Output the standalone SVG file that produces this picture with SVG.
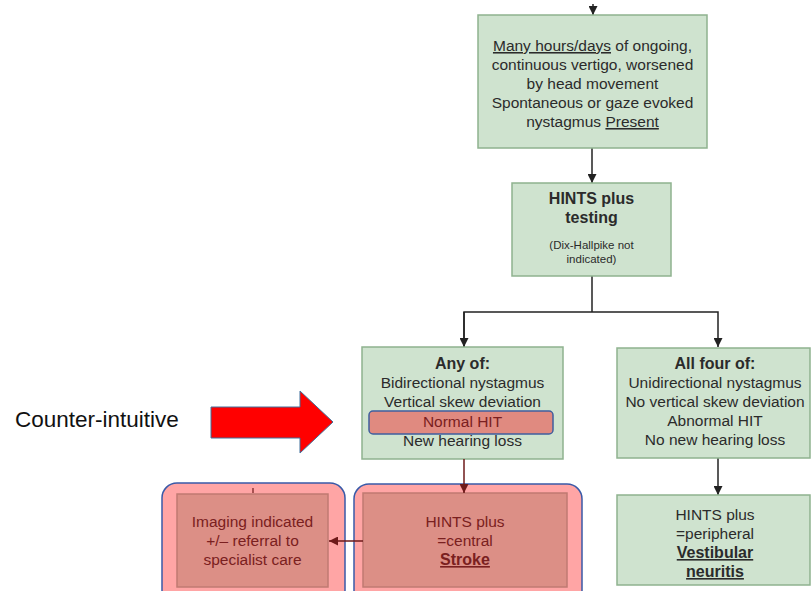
<svg xmlns="http://www.w3.org/2000/svg" width="811" height="591" viewBox="0 0 811 591">
  <defs>
    <marker id="arr" viewBox="0 0 10 10" refX="10" refY="5" markerWidth="9" markerHeight="9" markerUnits="userSpaceOnUse" orient="auto">
      <path d="M0,0 L10,5 L0,10 z" fill="#222"/>
    </marker>
    <marker id="arr-red" viewBox="0 0 10 10" refX="10" refY="5" markerWidth="9" markerHeight="9" markerUnits="userSpaceOnUse" orient="auto">
      <path d="M0,0 L10,5 L0,10 z" fill="#6e1a1a"/>
    </marker>
  </defs>
  <style>
    .box { fill: #cfe3cf; stroke: #8fb28f; stroke-width: 1.5; }
    .hl { fill: #ffa5a5; stroke: #3a5aa8; stroke-width: 1.5; }
    .inner { fill: #dc8f86; stroke: #c07a72; stroke-width: 1.5; }
    .t { font-family: "Liberation Sans", Arial, sans-serif; font-size: 15.5px; fill: #2b2b2b; text-anchor: middle; }
    .b { font-weight: bold; font-size: 16px; }
    .s { font-size: 11.5px; }
    .r { fill: #7a2020; }
    .line { stroke: #222; stroke-width: 1.5; fill: none; }
    .line-red { stroke: #6e1a1a; stroke-width: 1.5; fill: none; }
  </style>
  <rect width="811" height="591" fill="#ffffff"/>

  <!-- connectors -->
  <g id="connectors">
    <line class="line" x1="593" y1="4" x2="593" y2="15" marker-end="url(#arr)"/>
    <line class="line" x1="592" y1="148" x2="592" y2="183" marker-end="url(#arr)"/>
    <polyline class="line" points="592,276 592,312"/>
    <polyline class="line" points="464,347 464,312 718,312 718,347" marker-end="url(#arr)"/>
    <line class="line" x1="464" y1="312" x2="464" y2="347" marker-end="url(#arr)"/>
    <line class="line" x1="718" y1="458" x2="718" y2="495" marker-end="url(#arr)"/>
  </g>

  <!-- top: ongoing vertigo -->
  <g id="n-vertigo">
    <rect class="box" x="478" y="15" width="229" height="133"/>
    <text class="t" x="592.5" y="51"><tspan text-decoration="underline">Many hours/days</tspan> of ongoing,</text>
    <text class="t" x="592.5" y="70">continuous vertigo, worsened</text>
    <text class="t" x="592.5" y="89">by head movement</text>
    <text class="t" x="592.5" y="108">Spontaneous or gaze evoked</text>
    <text class="t" x="592.5" y="127">nystagmus <tspan text-decoration="underline">Present</tspan></text>
  </g>

  <!-- HINTS plus testing -->
  <g id="n-hints">
    <rect class="box" x="512" y="183" width="159" height="93"/>
    <text class="t b" x="591.5" y="204">HINTS plus</text>
    <text class="t b" x="591.5" y="223">testing</text>
    <text class="t s" x="591.5" y="249">(Dix-Hallpike not</text>
    <text class="t s" x="591.5" y="263">indicated)</text>
  </g>

  <!-- central signs -->
  <g id="n-any">
    <rect class="box" x="362" y="347" width="201" height="112"/>
    <rect x="369" y="411" width="184" height="23" rx="4" fill="#e08a80" stroke="#3f5f9f" stroke-width="1.5"/>
    <text class="t b" x="462.5" y="369">Any of:</text>
    <text class="t" x="462.5" y="388">Bidirectional nystagmus</text>
    <text class="t" x="462.5" y="407">Vertical skew deviation</text>
    <text class="t r" x="462.5" y="427">Normal HIT</text>
    <text class="t" x="462.5" y="446">New hearing loss</text>
  </g>

  <!-- peripheral signs -->
  <g id="n-all">
    <rect class="box" x="617" y="348" width="193" height="110"/>
    <text class="t b" x="715" y="369">All four of:</text>
    <text class="t" x="715" y="388">Unidirectional nystagmus</text>
    <text class="t" x="715" y="407">No vertical skew deviation</text>
    <text class="t" x="715" y="426">Abnormal HIT</text>
    <text class="t" x="715" y="445">No new hearing loss</text>
  </g>

  <!-- peripheral result -->
  <g id="n-peripheral">
    <rect class="box" x="617" y="495" width="193" height="90"/>
    <text class="t" x="715" y="520">HINTS plus</text>
    <text class="t" x="715" y="539">=peripheral</text>
    <text class="t b" x="715" y="558" text-decoration="underline">Vestibular</text>
    <text class="t b" x="715" y="577" text-decoration="underline">neuritis</text>
  </g>

  <!-- imaging -->
  <g id="n-imaging">
    <rect class="hl" x="162" y="483" width="183" height="122" rx="15"/>
    <rect class="inner" x="177" y="494" width="151" height="93"/>
    <line x1="253" y1="488" x2="253" y2="493" stroke="#6e1a1a" stroke-width="1.2"/>
    <text class="t r" x="252.5" y="527">Imaging indicated</text>
    <text class="t r" x="252.5" y="546">+/– referral to</text>
    <text class="t r" x="252.5" y="565">specialist care</text>
  </g>

  <!-- stroke -->
  <g id="n-stroke">
    <rect class="hl" x="354" y="484" width="228" height="121" rx="15"/>
    <rect class="inner" x="363" y="493" width="204" height="94"/>
    <text class="t r" x="465" y="527">HINTS plus</text>
    <text class="t r" x="465" y="546">=central</text>
    <text class="t b r" x="465" y="565" text-decoration="underline">Stroke</text>
  </g>

  <!-- connectors drawn over highlights -->
  <g id="connectors-red">
    <line class="line-red" x1="464" y1="459" x2="464" y2="493" marker-end="url(#arr-red)"/>
    <line class="line-red" x1="363" y1="541" x2="329" y2="541" marker-end="url(#arr-red)"/>
  </g>

  <!-- callout -->
  <g id="callout">
    <text x="15" y="427" font-family="Liberation Sans, Arial, sans-serif" font-size="22.5" fill="#111">Counter-intuitive</text>
    <path d="M211,407 L300,407 L300,391 L333,422 L300,453 L300,438 L211,438 Z" fill="#ff0000" stroke="#41719c" stroke-width="1"/>
  </g>
</svg>
